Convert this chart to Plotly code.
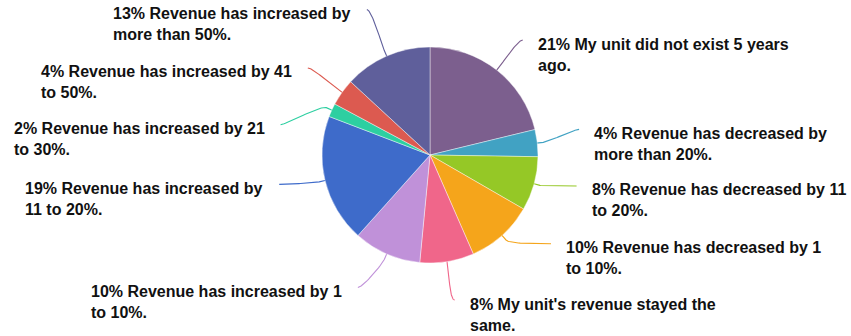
import math
import plotly.graph_objects as go

# ---- data ----
CATEGORIES = [
    "My unit did not exist 5 years ago.",
    "Revenue has decreased by more than 20%.",
    "Revenue has decreased by 11 to 20%.",
    "Revenue has decreased by 1 to 10%.",
    "My unit's revenue stayed the same.",
    "Revenue has increased by 1 to 10%.",
    "Revenue has increased by 11 to 20%.",
    "Revenue has increased by 21 to 30%.",
    "Revenue has increased by 41 to 50%.",
    "Revenue has increased by more than 50%.",
]
VALUES = [21, 4, 8, 10, 8, 10, 19, 2, 4, 13]
LABEL_TEXT = [
    "21% My unit did not exist 5 years<br>ago.",
    "4% Revenue has decreased by<br>more than 20%.",
    "8% Revenue has decreased by 11<br>to 20%.",
    "10% Revenue has decreased by 1<br>to 10%.",
    "8% My unit's revenue stayed the<br>same.",
    "10% Revenue has increased by 1<br>to 10%.",
    "19% Revenue has increased by<br>11 to 20%.",
    "2% Revenue has increased by 21<br>to 30%.",
    "4% Revenue has increased by 41<br>to 50%.",
    "13% Revenue has increased by<br>more than 50%.",
]

# ---- styling / layout ----
COLORS = ["#7c5f8e", "#41a2c3", "#95c826", "#f5a51b", "#f0668a",
          "#c091d9", "#3e6bca", "#2dcfa1", "#dc5a50", "#5f5f9b"]
# label placement adjustments (collision avoidance), in pixels
LABEL_NUDGE = [(0, 3), (0, -9), (2, -9), (21, -23), (1, -3),
               (-12, -5), (-5, -6), (-13, 32), (0, 0), (-3, -8)]

W, H = 851, 336
CX, CY, R = 430, 155, 108
LABEL_R = 150
BREAK = 6

fig = go.Figure()

fig.add_trace(go.Pie(
    labels=CATEGORIES, values=VALUES, sort=False, direction="clockwise",
    rotation=0, marker=dict(colors=COLORS, line=dict(color="rgba(255,255,255,0.7)", width=0.6)),
    textinfo="none", showlegend=False, automargin=False,
    domain=dict(x=[(CX - R) / W, (CX + R) / W], y=[1 - (CY + R) / H, 1 - (CY - R) / H]),
))

total = sum(VALUES)
cum = 0.0
annotations = []
for i, v in enumerate(VALUES):
    mid = (cum + v / 2) / total
    cum += v
    a = 2 * math.pi * mid
    ux, uy = math.sin(a), -math.cos(a)
    right = mid < 0.5
    s = 1 if right else -1
    tx, ty = CX + R * ux, CY + R * uy
    bx, by = tx + BREAK * ux, ty + BREAK * uy
    lx = CX + LABEL_R * ux + LABEL_NUDGE[i][0]
    ly = CY + LABEL_R * uy + LABEL_NUDGE[i][1]
    p0 = (lx, ly)
    p1 = (lx - s * 5, ly)
    p2 = (2 * bx - tx, 2 * by - ty)
    p3 = (bx, by)
    xs, ys = [], []
    n = 30
    for k in range(n + 1):
        t = k / n
        mt = 1 - t
        x = mt**3 * p0[0] + 3 * mt**2 * t * p1[0] + 3 * mt * t**2 * p2[0] + t**3 * p3[0]
        y = mt**3 * p0[1] + 3 * mt**2 * t * p1[1] + 3 * mt * t**2 * p2[1] + t**3 * p3[1]
        xs.append(x)
        ys.append(y)
    xs.append(tx - ux)
    ys.append(ty - uy)
    fig.add_trace(go.Scatter(x=xs, y=ys, mode="lines", line=dict(color=COLORS[i], width=1.1),
                             hoverinfo="skip", showlegend=False))
    annotations.append(dict(
        x=lx + 15 if right else lx - 16, y=ly + 14.5, xref="x", yref="y",
        xanchor="left" if right else "right", yanchor="middle", align="left",
        text="<b>" + LABEL_TEXT[i] + "</b>", showarrow=False, borderpad=0, borderwidth=0,
        font=dict(family="Liberation Sans, Arial, sans-serif", size=16, color="#111111"),
    ))

fig.update_layout(
    width=W, height=H, autosize=False,
    margin=dict(l=0, r=0, t=0, b=0),
    paper_bgcolor="white", plot_bgcolor="white",
    xaxis=dict(range=[0, W], visible=False, fixedrange=True),
    yaxis=dict(range=[H, 0], visible=False, fixedrange=True),
    annotations=annotations, showlegend=False,
)

fig.write_html(
    "out.html",
    config={"displayModeBar": False},
    post_script="document.body.style.margin='0';document.body.style.overflow='hidden';",
)
